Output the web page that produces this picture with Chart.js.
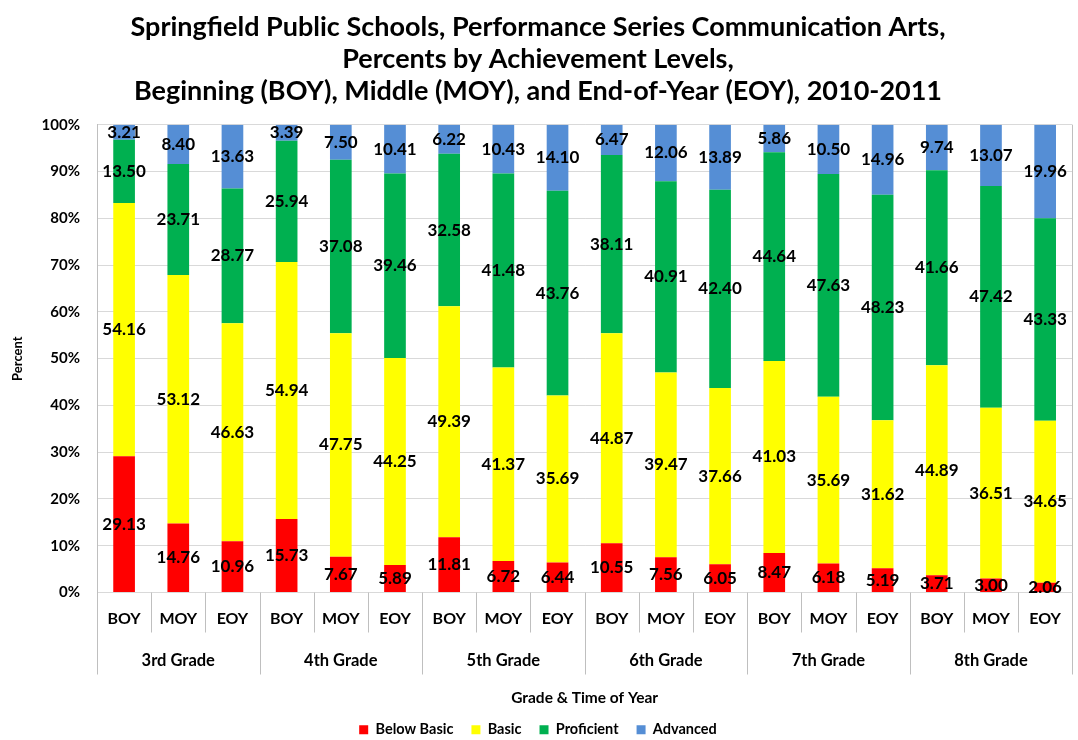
<!DOCTYPE html>
<html><head><meta charset="utf-8">
<script src="https://cdn.jsdelivr.net/npm/chart.js@4"></script>
<style>html,body{margin:0;padding:0;background:#fff}#wrap{width:1078px;height:740px}</style>
</head><body><div id="wrap"><canvas id="c" width="1078" height="740"></canvas></div>
<script>
const titleLines = [
  'Springfield Public Schools, Performance Series Communication Arts,',
  'Percents by Achievement Levels,',
  'Beginning (BOY), Middle (MOY), and End-of-Year (EOY), 2010-2011'
];
const grades = ['3rd Grade','4th Grade','5th Grade','6th Grade','7th Grade','8th Grade'];
const times = ['BOY','MOY','EOY'];
const yTicks = [0,10,20,30,40,50,60,70,80,90,100];
const seriesNames = ['Below Basic','Basic','Proficient','Advanced'];
const belowBasic = [29.13,14.76,10.96,15.73,7.67,5.89,11.81,6.72,6.44,10.55,7.56,6.05,8.47,6.18,5.19,3.71,3.00,2.06];
const basic      = [54.16,53.12,46.63,54.94,47.75,44.25,49.39,41.37,35.69,44.87,39.47,37.66,41.03,35.69,31.62,44.89,36.51,34.65];
const proficient = [13.50,23.71,28.77,25.94,37.08,39.46,32.58,41.48,43.76,38.11,40.91,42.40,44.64,47.63,48.23,41.66,47.42,43.33];
const advanced   = [3.21,8.40,13.63,3.39,7.50,10.41,6.22,10.43,14.10,6.47,12.06,13.89,5.86,10.50,14.96,9.74,13.07,19.96];
const seriesColors = ['#FF0000','#FFFF00','#00B050','#558ED5'];

const categories = grades.flatMap(() => times);
const seriesData = [belowBasic, basic, proficient, advanced];

Chart.defaults.font.family = 'Lato';
Chart.defaults.color = '#000';

const dataLabelPlugin = {
  id: 'dataLabels',
  afterDatasetsDraw(chart) {
    const ctx = chart.ctx;
    ctx.save();
    ctx.font = 'bold 17px Lato';
    ctx.fillStyle = '#000';
    ctx.textAlign = 'center';
    ctx.textBaseline = 'middle';
    chart.data.datasets.forEach((ds, di) => {
      const meta = chart.getDatasetMeta(di);
      meta.data.forEach((bar, i) => {
        const p = bar.getProps(['x','y','base'], true);
        ctx.fillText(ds.data[i].toFixed(2), p.x, (p.y + p.base) / 2);
      });
    });
    ctx.restore();
  }
};

const groupAxisPlugin = {
  id: 'groupAxis',
  afterDraw(chart) {
    const {ctx, chartArea: ca, scales: {x}} = chart;
    ctx.save();
    ctx.strokeStyle = '#BFBFBF';
    ctx.lineWidth = 1;
    ctx.beginPath();
    ctx.moveTo(Math.round(ca.right) + 0.5, ca.top);
    ctx.lineTo(Math.round(ca.right) + 0.5, ca.bottom);
    ctx.stroke();
    const n = categories.length;
    for (let i = 0; i <= n; i++) {
      let px;
      if (i === 0) px = x.left;
      else if (i === n) px = x.right;
      else px = (x.getPixelForValue(i - 1) + x.getPixelForValue(i)) / 2;
      px = Math.round(px) + 0.5;
      const yEnd = (i % times.length === 0) ? ca.bottom + 82 : ca.bottom + 40;
      ctx.beginPath();
      ctx.moveTo(px, ca.bottom);
      ctx.lineTo(px, yEnd);
      ctx.stroke();
    }
    ctx.font = 'bold 16.5px Lato';
    ctx.fillStyle = '#000';
    ctx.textAlign = 'center';
    ctx.textBaseline = 'middle';
    grades.forEach((g, gi) => {
      const a = x.getPixelForValue(gi * times.length);
      const b = x.getPixelForValue(gi * times.length + times.length - 1);
      ctx.fillText(g, (a + b) / 2, ca.bottom + 68);
    });
    ctx.restore();
  }
};

new Chart(document.getElementById('c'), {
  type: 'bar',
  data: {
    labels: categories,
    datasets: seriesNames.map((name, i) => ({
      label: name,
      data: seriesData[i],
      backgroundColor: seriesColors[i],
      borderWidth: 0,
      barPercentage: 0.4,
      categoryPercentage: 1.0
    }))
  },
  options: {
    responsive: false,
    devicePixelRatio: 1,
    animation: false,
    layout: { padding: { left: 0, right: 2, top: 0, bottom: -7 } },
    plugins: {
      title: {
        display: true,
        text: titleLines,
        font: { size: 27, weight: 'bold', lineHeight: 1.17 },
        color: '#000',
        padding: { top: 12, bottom: 18 }
      },
      legend: {
        position: 'bottom',
        labels: {
          boxWidth: 9, boxHeight: 9,
          font: { size: 14.5, weight: 'bold' },
          padding: 18,
          color: '#000'
        }
      },
      tooltip: { enabled: false }
    },
    scales: {
      x: {
        stacked: true,
        grid: { display: false, drawTicks: false },
        border: { display: false },
        ticks: { font: { size: 16, weight: 'bold' }, padding: 17, maxRotation: 0, autoSkip: false },
        title: { display: true, text: 'Grade & Time of Year', font: { size: 15.5, weight: 'bold' }, padding: { top: 0, bottom: -3 } },
        afterFit(s) { s.height = 112; }
      },
      y: {
        stacked: true,
        min: 0, max: 100,
        afterBuildTicks(s) { s.ticks = yTicks.map(v => ({ value: v })); },
        grid: { color: '#D9D9D9', drawTicks: false },
        border: { color: '#BFBFBF' },
        ticks: { font: { size: 15, weight: 'bold' }, padding: 17, callback: v => v + '%' },
        title: { display: true, text: 'Percent', font: { size: 13, weight: 'bold' }, padding: { top: 10, bottom: 0 } },
        afterFit(s) { s.width = 97; }
      }
    }
  },
  plugins: [dataLabelPlugin, groupAxisPlugin]
});
</script>
</body></html>
